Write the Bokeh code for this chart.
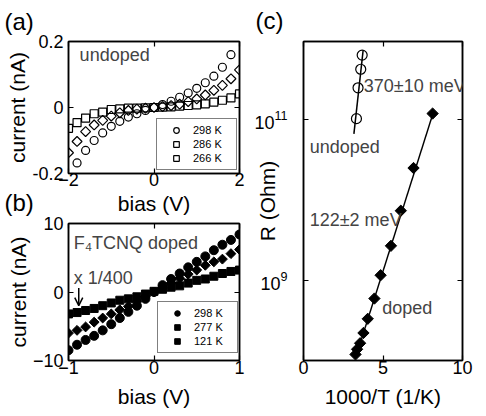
from bokeh.plotting import figure
from bokeh.layouts import row, column
from bokeh.models import (Label, Arrow, OpenHead, FixedTicker, LinearAxis,
                          CustomLabelingPolicy)
from bokeh.embed import file_html
from bokeh.resources import INLINE

FONT = "Liberation Sans"

# ---------------- data: panel (a) undoped I-V ----------------
bias_a_298 = [-1.8, -1.6, -1.4, -1.2, -1.0, -0.8, -0.6, -0.4, -0.2, 0.0,
              0.2, 0.4, 0.6, 0.8, 1.0, 1.2, 1.4, 1.6, 1.8]
current_a_298 = [-0.168, -0.130, -0.100, -0.077, -0.057, -0.042, -0.029, -0.019, -0.009, 0.0,
                 0.009, 0.019, 0.031, 0.044, 0.058, 0.075, 0.095, 0.122, 0.160]
bias_a = [-2.0, -1.8, -1.6, -1.4, -1.2, -1.0, -0.8, -0.6, -0.4, -0.2, 0.0,
          0.2, 0.4, 0.6, 0.8, 1.0, 1.2, 1.4, 1.6, 1.8, 2.0]
current_a_286 = [-0.137, -0.103, -0.073, -0.053, -0.039, -0.026, -0.016, -0.009, -0.005, -0.002, 0.0,
                 0.003, 0.006, 0.010, 0.018, 0.026, 0.038, 0.052, 0.067, 0.087, 0.114]
current_a_266 = [-0.063, -0.046, -0.032, -0.019, -0.014, -0.006, -0.004, -0.002, -0.002, -0.001, 0.0,
                 0.001, 0.002, 0.004, 0.006, 0.008, 0.011, 0.016, 0.022, 0.029, 0.041]

# ---------------- data: panel (b) F4TCNQ doped I-V ----------------
bias_b = [-1.0, -0.9, -0.8, -0.7, -0.6, -0.5, -0.4, -0.3, -0.2, -0.1, 0.0,
          0.1, 0.2, 0.3, 0.4, 0.5, 0.6, 0.7, 0.8, 0.9, 1.0]
current_b_298 = [-8.5, -7.7, -7.0, -6.4, -5.6, -4.7, -3.8, -2.9, -2.0, -1.0, 0.0,
                 1.0, 1.9, 2.7, 3.6, 4.4, 5.2, 6.1, 6.9, 7.6, 8.4]
current_b_277 = [-6.0, -5.6, -5.1, -4.4, -3.8, -3.2, -2.6, -2.1, -1.4, -0.7, 0.0,
                 0.6, 1.3, 2.0, 2.6, 3.2, 3.9, 4.4, 4.8, 5.6, 6.2]
current_b_121 = [-3.2, -3.0, -2.7, -2.4, -2.0, -1.6, -1.2, -1.0, -0.7, -0.3, 0.1,
                 0.4, 0.7, 0.9, 1.3, 1.7, 1.9, 2.3, 2.7, 3.0, 3.2]

# ---------------- data: panel (c) Arrhenius ----------------
invT_undoped = [3.33, 3.43, 3.60, 3.69]
R_undoped = [1.02e11, 2.47e11, 4.2e11, 6.3e11]
invT_doped = [3.27, 3.37, 3.56, 3.77, 4.04, 4.46, 4.85, 5.50, 6.12, 6.92, 8.12]
R_doped = [1.19e8, 1.38e8, 1.64e8, 2.2e8, 3.3e8, 5.9e8, 1.15e9, 2.67e9, 7.3e9, 2.48e10, 1.18e11]
fit_undoped_x = [3.17, 3.75]
fit_undoped_R = [6.6e10, 7.2e11]
fit_doped_x = [3.27, 8.17]
fit_doped_R = [1.07e8, 1.23e11]


def style(p, xticks, yticks):
    p.outline_line_color = "black"
    p.outline_line_width = 1.5
    p.xgrid.grid_line_color = None
    p.ygrid.grid_line_color = None
    p.background_fill_color = "white"
    p.border_fill_color = "white"
    for ax in p.xaxis + p.yaxis:
        ax.axis_line_color = "black"
        ax.axis_line_width = 1.5
        ax.major_tick_in = 5
        ax.major_tick_out = 0
        ax.major_tick_line_width = 1.2
        ax.minor_tick_line_color = None
        ax.major_label_text_font = FONT
        ax.major_label_text_font_size = "18px"
        ax.major_label_text_color = "black"
        ax.axis_label_text_font = FONT
        ax.axis_label_text_font_size = "21px"
        ax.axis_label_text_font_style = "normal"
        ax.axis_label_text_color = "black"
    p.xaxis.ticker = FixedTicker(ticks=xticks)
    p.yaxis.ticker = FixedTicker(ticks=yticks)
    p.xaxis.major_label_standoff = 0
    p.yaxis.major_label_standoff = 5
    p.xaxis.axis_label_standoff = 8
    p.yaxis.axis_label_standoff = 0
    # mirrored ticks (box) on top and right, without labels
    top = LinearAxis(ticker=FixedTicker(ticks=xticks))
    right = LinearAxis(ticker=FixedTicker(ticks=yticks))
    for ax in (top, right):
        ax.axis_line_color = "black"
        ax.axis_line_width = 1.5
        ax.major_tick_in = 5
        ax.major_tick_out = 0
        ax.major_tick_line_width = 1.2
        ax.minor_tick_line_color = None
        ax.major_label_text_font_size = "1px"
        ax.major_label_standoff = 0
        ax.major_label_policy = CustomLabelingPolicy(code="return []")
    p.add_layout(top, "above")
    p.add_layout(right, "right")
    # panel letter as a left-aligned title
    p.title.text_font = FONT
    p.title.text_font_size = "24px"
    p.title.text_font_style = "normal"
    p.title.text_color = "black"
    p.title.align = "left"
    p.title.standoff = 8


def legend_style(p, loc):
    lg = p.legend[0]
    lg.location = loc
    lg.padding = 4
    lg.spacing = 0
    lg.glyph_width = 30
    lg.glyph_height = 14
    lg.label_height = 14
    lg.label_width = 39
    lg.label_standoff = 2
    lg.margin = 0
    lg.border_line_color = "black"
    lg.border_line_width = 1.5
    lg.background_fill_alpha = 1.0
    lg.label_text_font = FONT
    lg.label_text_font_size = "11px"
    lg.label_text_color = "black"


# ---------------- panel (a) ----------------
pa = figure(width=248, height=225, x_range=(-2, 2), y_range=(-0.2, 0.2), title="(a)",
            output_backend="svg", toolbar_location=None,
            min_border_left=68, min_border_right=9, min_border_top=41, min_border_bottom=52)
pa.scatter(bias_a_298, current_a_298, marker="circle", size=8, fill_color=None,
           line_color="black", line_width=1.2, legend_label="298 K")
pa.scatter(bias_a, current_a_286, marker="square", angle=0.785, size=7, fill_color=None,
           line_color="black", line_width=1.2, legend_label="286 K")
pa.scatter(bias_a, current_a_266, marker="square", size=8, fill_color=None,
           line_color="black", line_width=1.2, legend_label="266 K")
pa.xaxis.axis_label = "bias (V)"
pa.yaxis.axis_label = "current (nA)"
style(pa, [-2, 0, 2], [-0.2, 0, 0.2])
pa.xaxis.major_label_standoff = -1
pa.xaxis.axis_label_standoff = 3
pa.title.offset = -64
pa.yaxis.major_label_overrides = {-0.2: "-0.2", 0: "0", 0.2: "0.2"}
legend_style(pa, (88, 3))
pa.add_layout(Label(x=-1.74, y=0.158, text="undoped", text_font=FONT,
                    text_font_size="18px", text_baseline="middle"))

# ---------------- panel (b) ----------------
pb = figure(width=248, height=245, x_range=(-1, 1), y_range=(-10, 10), title="(b)",
            output_backend="svg", toolbar_location=None,
            min_border_left=68, min_border_right=9, min_border_top=52, min_border_bottom=56)
pb.scatter(bias_b, current_b_298, marker="circle", size=9, fill_color="black",
           line_color="black", legend_label="298 K")
pb.scatter(bias_b, current_b_277, marker="square", angle=0.785, size=7, fill_color="black",
           line_color="black", legend_label="277 K")
pb.scatter(bias_b, current_b_121, marker="square", size=8, fill_color="black",
           line_color="black", legend_label="121 K")
pb.xaxis.axis_label = "bias (V)"
pb.yaxis.axis_label = "current (nA)"
style(pb, [-1, 0, 1], [-10, 0, 10])
pb.title.offset = -64
pb.border_fill_alpha = 0.0
pb.margin = (-54, 0, 0, 0)
legend_style(pb, (89, 7))
pb.add_layout(Label(x=-0.94, y=7.2, text="F\u2084TCNQ doped", text_font=FONT,
                    text_font_size="18px", text_baseline="middle"))
pb.add_layout(Label(x=-0.94, y=2.1, text="x 1/400", text_font=FONT,
                    text_font_size="18px", text_baseline="middle"))
pb.add_layout(Arrow(end=OpenHead(size=8, line_width=1.5), x_start=-0.88, y_start=0.6,
                    x_end=-0.88, y_end=-2.0, line_width=1.5))

# ---------------- panel (c) ----------------
pc = figure(width=238, height=416, x_range=(0, 10), y_range=(1e8, 9.3e11), title="(c)",
            y_axis_type="log", output_backend="svg", toolbar_location=None,
            min_border_left=55, min_border_right=10, min_border_top=41, min_border_bottom=56)
pc.line(fit_undoped_x, fit_undoped_R, line_color="black", line_width=1.5)
pc.line(fit_doped_x, fit_doped_R, line_color="black", line_width=1.5)
pc.scatter(invT_undoped, R_undoped, marker="circle", size=10, fill_color=None,
           line_color="black", line_width=1.2)
pc.scatter(invT_doped, R_doped, marker="square", angle=0.785, size=8, fill_color="black",
           line_color="black")
pc.xaxis.axis_label = "1000/T (1/K)"
pc.yaxis.axis_label = "R (Ohm)"
style(pc, [0, 5, 10], [1e9, 1e11])
pc.title.offset = -48
pc.yaxis.major_label_standoff = 16
pc.yaxis.axis_label_standoff = -28
pc.add_layout(Label(x=3.79, y=2.57e11, text="370\u00b110 meV", text_font=FONT,
                    text_font_size="18px", text_baseline="middle"))
pc.add_layout(Label(x=0.39, y=4.53e10, text="undoped", text_font=FONT,
                    text_font_size="18px", text_baseline="middle"))
pc.add_layout(Label(x=0.39, y=5.56e9, text="122\u00b12 meV", text_font=FONT,
                    text_font_size="18px", text_baseline="middle"))
pc.add_layout(Label(x=4.95, y=4.45e8, text="doped", text_font=FONT,
                    text_font_size="18px", text_baseline="middle"))

layout = row(column(pa, pb), pc)
open("out.html", "w").write(file_html(layout, INLINE))
